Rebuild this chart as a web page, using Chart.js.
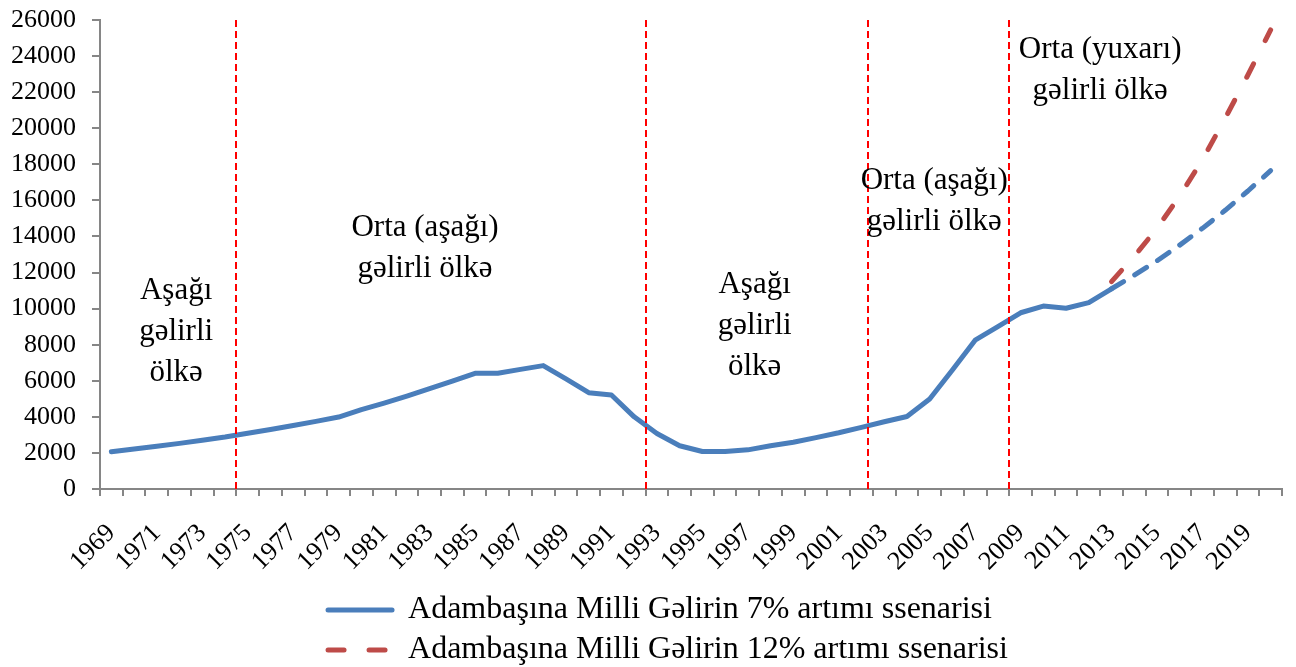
<!DOCTYPE html>
<html>
<head>
<meta charset="utf-8">
<script src="https://cdn.jsdelivr.net/npm/chart.js@4.4.1/dist/chart.umd.min.js"></script>
<style>
html,body{margin:0;padding:0;background:#fff;}
#wrap{width:1296px;height:667px;}
</style>
</head>
<body>
<div id="wrap"><canvas id="c" width="1296" height="667"></canvas></div>
<script>
// ---------- DATA ----------
const years = ['1969','1970','1971','1972','1973','1974','1975','1976','1977','1978',
  '1979','1980','1981','1982','1983','1984','1985','1986','1987','1988',
  '1989','1990','1991','1992','1993','1994','1995','1996','1997','1998',
  '1999','2000','2001','2002','2003','2004','2005','2006','2007','2008',
  '2009','2010','2011','2012','2013','2014','2015','2016','2017','2018',
  '2019','2020'];

// 7% scenario (actual 1969-2013, projected 2014-2020)
const income7 = [2070,2220,2370,2530,2700,2880,3090,3300,3520,3750,
  3990,4400,4760,5150,5560,5980,6410,6420,6630,6840,
  6100,5340,5210,4000,3080,2400,2080,2080,2170,2400,
  2590,2850,3120,3420,3730,4020,4990,6600,8250,9000,
  9770,10140,10020,10330,11100,11850,12650,13520,14450,15450,
  16520,17650];

// 12% scenario (projected 2013-2020)
const income12 = [null,null,null,null,null,null,null,null,null,null,
  null,null,null,null,null,null,null,null,null,null,
  null,null,null,null,null,null,null,null,null,null,
  null,null,null,null,null,null,null,null,null,null,
  null,null,null,null,11500,12900,14450,16250,18250,20550,
  22950,25450];

const seriesNames = ['Adambaşına Milli Gəlirin 7% artımı ssenarisi',
                     'Adambaşına Milli Gəlirin 12% artımı ssenarisi'];

const yTicksMin = 0, yTicksMax = 26000, yTickStep = 2000;

// projection begins in 2013
const projectionStartYear = '2013';

// income-group period boundaries (in year units)
const regionBoundaries = [1974.5, 1992.5, 2002.3, 2008.5];

// period labels
const regionTexts = [
  ['Aşağı','gəlirli','ölkə'],
  ['Orta (aşağı)','gəlirli ölkə'],
  ['Aşağı','gəlirli','ölkə'],
  ['Orta (aşağı)','gəlirli ölkə'],
  ['Orta (yuxarı)','gəlirli ölkə']
];
// anchor of each label: [year, value of first baseline]
const regionTextAnchors = [
  [1971.85, 10530],
  [1982.8, 14020],
  [1997.3, 10860],
  [2005.2, 16630],
  [2012.5, 23890]
];

// ---------- STYLE ----------
const FONT = "'Liberation Serif','Times New Roman',serif";
const BLUE = '#4a7ebb';
const RED = '#be4b48';
const AXIS = '#868686';
const LEGEND_SHIFT = 27;
const projIdx = years.indexOf(projectionStartYear);
const firstYear = parseInt(years[0], 10);

const boundaryPlugin = {
  id: 'boundaries',
  afterLayout(chart) {
    const lg = chart.legend;
    if (lg && lg.lineWidths && lg.lineWidths.length) {
      const w = Math.max(...lg.lineWidths);
      lg.lineWidths = lg.lineWidths.map(() => w);
      lg.left += LEGEND_SHIFT;
      lg.right += LEGEND_SHIFT;
    }
  },
  afterDatasetsDraw(chart) {
    const {ctx, chartArea, scales: {x, y}} = chart;
    ctx.save();
    ctx.strokeStyle = '#ff0000';
    ctx.lineWidth = 2;
    ctx.setLineDash([7, 4]);
    regionBoundaries.forEach(yr => {
      const px = Math.round(x.getPixelForValue(yr - firstYear));
      ctx.beginPath();
      ctx.moveTo(px, chartArea.top);
      ctx.lineTo(px, chartArea.bottom);
      ctx.stroke();
    });
    ctx.restore();

    ctx.save();
    ctx.fillStyle = '#000';
    ctx.font = "31px " + FONT;
    ctx.textAlign = 'center';
    ctx.textBaseline = 'alphabetic';
    regionTexts.forEach((lines, i) => {
      const [yr, val] = regionTextAnchors[i];
      const px = x.getPixelForValue(yr - firstYear);
      const py = y.getPixelForValue(val);
      lines.forEach((t, j) => ctx.fillText(t, px, py + j * 41));
    });
    ctx.restore();
  }
};

new Chart(document.getElementById('c'), {
  type: 'line',
  data: {
    labels: years,
    datasets: [
      {
        label: seriesNames[0],
        data: income7,
        borderColor: BLUE,
        backgroundColor: BLUE,
        borderWidth: 5,
        borderCapStyle: 'round',
        borderJoinStyle: 'round',
        pointRadius: 0,
        tension: 0,
        segment: {
          borderDash: ctx => ctx.p0DataIndex >= projIdx ? [14, 13] : undefined
        }
      },
      {
        label: seriesNames[1],
        data: income12,
        borderColor: RED,
        backgroundColor: RED,
        borderWidth: 5,
        borderCapStyle: 'round',
        borderDash: [15, 26],
        pointRadius: 0,
        tension: 0
      }
    ]
  },
  options: {
    responsive: false,
    devicePixelRatio: 1,
    animation: false,
    events: [],
    layout: { padding: { left: 0, right: 14, top: 20, bottom: -9 } },
    scales: {
      x: {
        type: 'category',
        offset: true,
        grid: { offset: true, drawOnChartArea: false, drawTicks: true, tickLength: 7, color: AXIS, lineWidth: 2 },
        border: { color: AXIS, width: 2 },
        ticks: {
          autoSkip: false,
          maxRotation: 45,
          minRotation: 45,
          padding: 22,
          color: '#000',
          font: { family: FONT, size: 26 },
          callback: (v, i) => (i % 2 === 0 ? years[i] : '')
        },
        afterFit(s) { s.height = 97; s.paddingLeft = 0; s.paddingRight = 0; }
      },
      y: {
        min: yTicksMin,
        max: yTicksMax,
        grid: { drawOnChartArea: false, drawTicks: true, tickLength: 8, color: AXIS, lineWidth: 2 },
        border: { color: AXIS, width: 2 },
        ticks: {
          stepSize: yTickStep,
          padding: 16,
          color: '#000',
          font: { family: FONT, size: 26 },
          callback: v => String(v)
        },
        afterFit(s) { s.width = 100; s.paddingTop = 0; s.paddingBottom = 0; }
      }
    },
    plugins: {
      legend: {
        position: 'bottom',
        labels: {
          usePointStyle: true,
          pointStyleWidth: 64,
          padding: 8,
          color: '#000',
          font: { family: FONT, size: 32 },
          generateLabels(chart) {
            return chart.data.datasets.map((ds, i) => ({
              text: ds.label,
              datasetIndex: i,
              pointStyle: 'line',
              strokeStyle: ds.borderColor,
              fillStyle: ds.borderColor,
              fontColor: '#000',
              lineWidth: 5,
              lineCap: 'round',
              lineDash: i === 1 ? [16, 25] : [],
              hidden: false
            }));
          }
        }
      },
      tooltip: { enabled: false }
    }
  },
  plugins: [boundaryPlugin]
});
</script>
</body>
</html>
